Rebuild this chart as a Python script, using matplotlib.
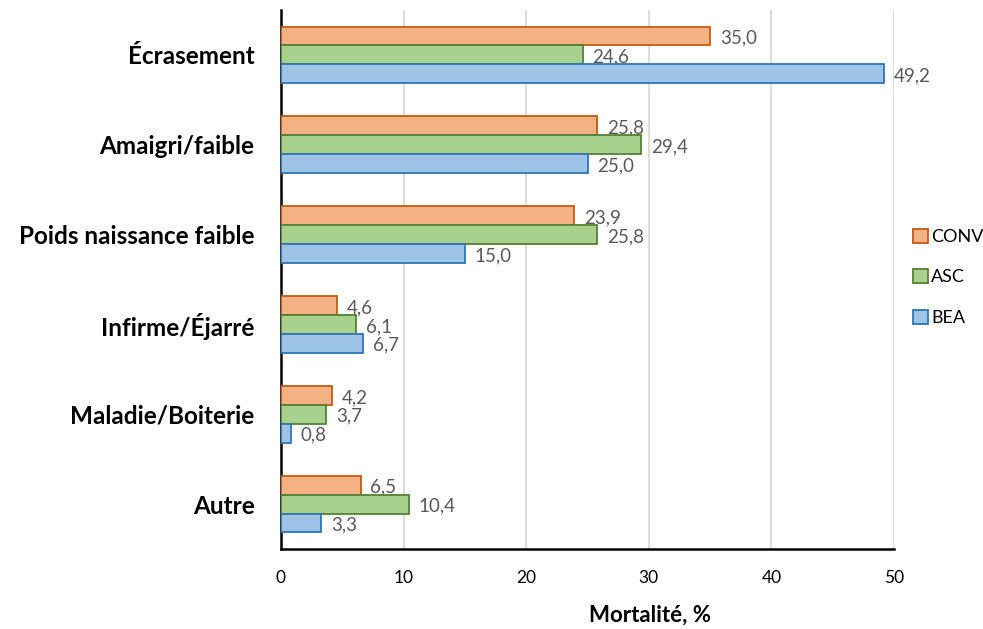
import matplotlib.pyplot as plt
import numpy as np

plt.rcParams['font.family'] = ['Lato', 'DejaVu Sans']

categories = ["Écrasement", "Amaigri/faible", "Poids naissance faible",
              "Infirme/Éjarré", "Maladie/Boiterie", "Autre"]
series_names = ["CONV", "ASC", "BEA"]
conv = [35.0, 25.8, 23.9, 4.6, 4.2, 6.5]
asc = [24.6, 29.4, 25.8, 6.1, 3.7, 10.4]
bea = [49.2, 25.0, 15.0, 6.7, 0.8, 3.3]

fills = ["#F4B183", "#A9D18E", "#9DC3E6"]
edges = ["#C55A11", "#538135", "#2E75B6"]

fig = plt.figure(figsize=(9.83, 6.29), dpi=100)
ax = fig.add_axes([281 / 983, 1 - 549 / 629, (894 - 281) / 983, 539 / 629])

y = np.arange(len(categories))
h = 0.21
for i, (name, vals) in enumerate(zip(series_names, [conv, asc, bea])):
    pos = y + (i - 1) * h
    bars = ax.barh(pos, vals, height=h, color=fills[i], edgecolor=edges[i],
                   linewidth=1.3, label=name, zorder=3)
    for b, v in zip(bars, vals):
        ax.annotate(f"{v:.1f}".replace(".", ","),
                    (b.get_width(), b.get_y() + b.get_height() / 2),
                    xytext=(7, -1.5), textcoords="offset points",
                    ha="left", va="center", fontsize=13.5, color="#595959")

ax.set_ylim(len(categories) - 0.5, -0.5)
ax.set_xlim(0, 50)
ax.set_xticks(np.arange(0, 51, 10))
ax.set_yticks(y)
ax.set_yticklabels(categories, fontsize=17.5, fontweight="bold")
ax.tick_params(axis="x", labelsize=12.5, length=0, pad=15)
ax.tick_params(axis="y", length=0, pad=19)
ax.grid(axis="x", color="#D9D9D9", linewidth=1.3, zorder=0)
for s in ["top", "right"]:
    ax.spines[s].set_visible(False)
ax.spines["left"].set_linewidth(1.8)
ax.spines["bottom"].set_linewidth(1.8)

fig.text(650 / 983, 1 - 615 / 629, "Mortalité, %", fontsize=16,
         fontweight="bold", ha="center", va="center")

ax.legend(loc="center left", bbox_to_anchor=(1.005, 0.504), frameon=False,
          fontsize=13, handlelength=0.8, handleheight=0.8, handletextpad=0.2,
          labelspacing=1.35)

fig.savefig("out.png", dpi=100)
